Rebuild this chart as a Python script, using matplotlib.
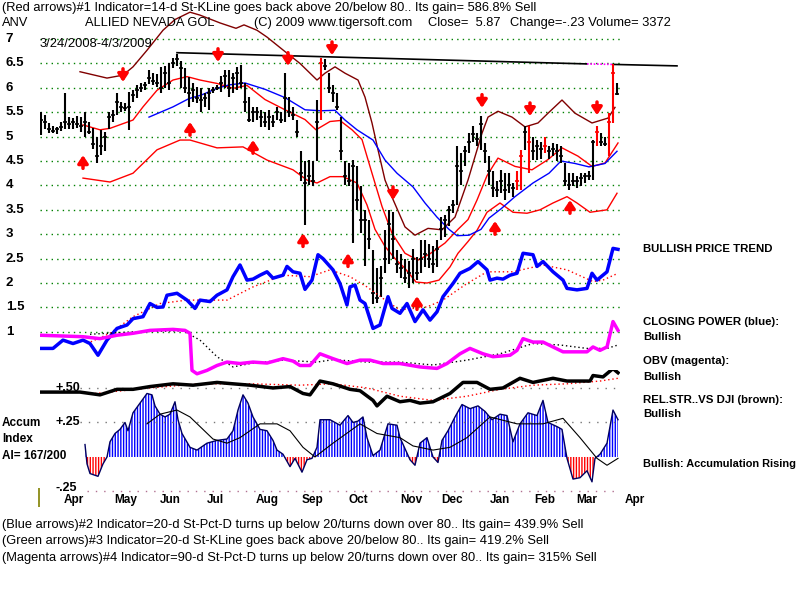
import matplotlib.pyplot as plt

# ---- daily price bars (bar number 0..144) ----
high = [5.5, 5.45, 5.28, 5.22, 5.2, 5.3, 5.89, 5.4, 5.38, 5.42,
        5.4, 5.5, 5.3, 5.17, 5.0, 5.13, 5.1, 5.5, 5.55, 5.89,
        5.7, 5.68, 5.92, 5.95, 6.05, 6.1, 6.12, 6.36, 6.3, 6.28,
        6.43, 6.45, 6.5, 6.62, 6.7, 6.55, 6.4, 6.23, 6.1, 6.02,
        5.99, 5.9, 6.0, 6.02, 6.06, 6.25, 6.36, 6.36, 6.3, 6.43,
        6.47, 6.1, 5.82, 5.6, 5.61, 5.54, 5.5, 5.54, 5.45, 5.61,
        5.5, 6.3, 5.82, 5.6, 5.34, 4.7, 4.5, 4.52, 4.5, 5.75,
        6.61, 6.6, 6.3, 6.05, 5.89, 5.4, 4.5, 4.45, 4.53, 4.4,
        3.98, 3.5, 3.3, 2.68, 2.3, 2.34, 3.09, 3.5, 3.45, 2.68,
        2.6, 2.5, 2.45, 2.7, 2.54, 2.88, 2.88, 2.8, 2.75, 2.88,
        3.36, 3.4, 3.57, 3.7, 4.8, 4.66, 4.8, 5.08, 5.21, 5.08,
        5.42, 4.87, 4.6, 4.3, 4.1, 4.32, 4.25, 4.25, 4.05, 4.3,
        4.73, 5.21, 5.21, 5.0, 4.94, 4.9, 5.0, 4.8, 4.87, 4.85,
        4.8, 4.46, 4.25, 4.25, 4.2, 4.25, 4.25, 4.29, 4.94, 5.21,
        5.08, 5.0, 5.49, 6.48, 6.1]
low = [5.03, 5.15, 5.07, 5.08, 5.06, 5.12, 5.15, 5.15, 5.16, 5.18,
       5.1, 5.0, 5.05, 4.75, 4.45, 4.62, 4.7, 5.15, 5.3, 5.45,
       5.5, 5.52, 5.14, 5.7, 5.8, 5.92, 5.95, 6.08, 6.05, 6.02,
       5.89, 6.0, 5.95, 6.4, 6.45, 6.0, 5.89, 5.6, 5.7, 5.68,
       5.5, 5.6, 5.54, 5.9, 5.95, 5.92, 6.0, 5.82, 5.9, 5.95,
       6.0, 5.5, 5.3, 5.3, 5.34, 5.2, 5.2, 5.14, 5.2, 5.34,
       5.27, 5.3, 5.4, 5.35, 5.0, 4.1, 3.19, 4.0, 3.98, 4.5,
       5.34, 6.36, 5.89, 5.7, 5.54, 4.53, 4.0, 3.98, 2.82, 3.5,
       3.02, 2.34, 2.7, 1.58, 1.6, 1.72, 2.2, 2.4, 2.5, 2.2,
       2.1, 2.0, 1.9, 2.0, 2.06, 2.2, 2.33, 2.3, 2.2, 2.33,
       2.88, 2.95, 3.16, 3.43, 3.6, 4.0, 4.4, 4.66, 4.9, 4.8,
       4.73, 4.46, 4.0, 3.77, 3.77, 3.84, 3.7, 3.84, 3.77, 3.9,
       3.91, 4.73, 4.25, 4.53, 4.53, 4.55, 4.66, 4.55, 4.6, 4.5,
       4.46, 3.98, 3.91, 3.98, 3.95, 3.98, 4.05, 4.12, 4.12, 4.8,
       4.8, 4.8, 4.6, 5.28, 5.86]
close = [5.35, 5.3, 5.15, 5.12, 5.15, 5.2, 5.3, 5.25, 5.3, 5.25,
         5.22, 5.3, 5.1, 4.85, 4.6, 4.8, 5.0, 5.4, 5.45, 5.7,
         5.6, 5.58, 5.6, 5.85, 5.95, 6.0, 6.05, 6.2, 6.15, 6.1,
         6.0, 6.3, 6.1, 6.5, 6.6, 6.4, 6.0, 5.9, 5.95, 5.8,
         5.75, 5.8, 5.9, 5.95, 6.0, 6.1, 6.25, 6.0, 6.2, 6.3,
         6.1, 5.7, 5.35, 5.5, 5.5, 5.4, 5.3, 5.4, 5.3, 5.5,
         5.35, 5.8, 5.5, 5.45, 5.1, 4.25, 4.05, 4.2, 4.1, 5.3,
         6.5, 6.45, 6.0, 5.9, 5.6, 4.7, 4.2, 4.1, 4.4, 3.7,
         3.3, 3.3, 2.9, 1.8, 1.7, 2.1, 2.5, 3.2, 2.9, 2.4,
         2.3, 2.1, 2.2, 2.5, 2.2, 2.5, 2.6, 2.5, 2.4, 2.7,
         3.1, 3.3, 3.5, 3.6, 4.4, 4.3, 4.7, 4.9, 5.05, 4.95,
         5.25, 4.7, 4.3, 3.95, 3.9, 4.1, 3.9, 4.0, 3.95, 4.1,
         4.6, 5.1, 4.9, 4.7, 4.8, 4.75, 4.8, 4.7, 4.75, 4.7,
         4.6, 4.1, 4.0, 4.1, 4.1, 4.15, 4.2, 4.2, 4.9, 5.1,
         4.9, 4.85, 5.3, 6.3, 5.87]
red_bars = [70, 119, 120, 122, 126, 139, 142, 143]

# ---- overlay lines (x = bar number, y = price scale) ----
upper_x = [9.75, 16.5, 20.5, 23, 26.5, 30.5, 33.5, 37.25, 39.75, 44.75, 48.75, 50.75,
           54, 56.5, 61.5, 64.75, 67.25, 69, 71, 73.5, 76, 79.25, 81, 82.75, 84.25,
           86, 87.75, 91, 93.5, 96.75, 100.25, 103.5, 106.75, 110.25, 111.75, 114.25,
           117.75, 121, 124.25, 126.75, 130.25, 133.5, 137.75, 141.75, 143.5]
upper_y = [6.33, 6.2, 6.26, 6.43, 6.77, 7.18, 7.4, 7.55, 7.49, 7.33, 7.22, 7.29,
           7.18, 7.04, 6.71, 6.5, 6.3, 6.16, 6.3, 6.43, 6.3, 6.16, 5.81, 5.28, 4.73,
           4.11, 3.76, 3.15, 2.98, 3.12, 3.09, 3.35, 4.11, 5.07, 5.4, 5.52,
           5.4, 5.2, 5.28, 5.48, 5.75, 5.48, 5.28, 5.38, 5.6]
mid_x = [10.5, 14.75, 17.25, 23, 25.5, 29, 33, 36.5, 39.75, 44, 48, 51.5, 56, 61, 66,
         68.75, 72.25, 74.75, 77.75, 80.25, 82.75, 85.25, 87.75, 91, 94.25, 97.25,
         101, 104.25, 106.75, 109, 111.5, 114.25, 118.5, 122.75, 126.75, 130.25,
         134.25, 137.75, 141, 144.25]
mid_y = [5.24, 5.14, 5.17, 5.34, 5.61, 5.95, 6.16, 6.23, 6.16, 6.09, 5.99, 6.05, 5.76,
         5.55, 5.35, 5.14, 5.31, 5.33, 5.14, 4.94, 4.25, 3.57, 3.02, 2.61, 2.47, 2.6,
         2.82, 3.1, 3.3, 3.7, 4.2, 4.56, 4.39, 4.32, 4.53, 4.77, 4.6, 4.39, 4.46, 4.87]
lower_x = [10.5, 17.25, 23, 29, 34.75, 37.25, 44, 50.5, 56.5, 63, 66.5, 69, 72.25, 75.5,
           79, 81.5, 83.5, 86, 88.5, 91, 93.75, 96.5, 99.5, 102.25, 104.25, 106.75,
           109, 111.5, 114.75, 118, 121.5, 124.75, 128, 131.5, 134, 137.25, 141.5, 144]
lower_y = [4.15, 4.07, 4.25, 4.73, 4.93, 4.93, 4.77, 4.79, 4.52, 4.32, 4.11, 4.05, 4.18,
           4.18, 4.05, 3.6, 3.1, 2.75, 2.5, 2.3, 2.02, 2.0, 2.06, 2.33, 2.61, 2.85,
           3.08, 3.45, 3.64, 3.45, 3.43, 3.5, 3.64, 3.77, 3.64, 3.45, 3.5, 3.84]
ma50_x = [27, 33, 37, 40, 44, 47, 51, 56, 61, 66, 70, 73.5, 76, 79, 83, 86, 89, 93, 96,
          99, 102, 104, 107, 110, 112, 115, 118.5, 123, 127, 130, 133.5, 137, 141, 144]
ma50_y = [5.4, 5.61, 5.78, 5.85, 5.99, 6.06, 6.1, 5.97, 5.8, 5.55, 5.53, 5.54, 5.34,
          5.14, 4.93, 4.52, 4.25, 3.97, 3.64, 3.35, 3.1, 2.97, 2.98, 3.1, 3.33, 3.52,
          3.77, 4.05, 4.25, 4.5, 4.45, 4.38, 4.45, 4.7]

# closing power (blue) and its red dotted average, drawn on the price grid
cp_x = [-0.25, 3, 5.5, 8, 10.5, 12.25, 14.25, 16.5, 19, 21.5, 23, 25.5, 27.25, 29, 30.5,
        31.5, 34, 36.5, 38.5, 39.75, 42.25, 44, 46.5, 48, 49.75, 51.5, 53, 54.75, 56.5,
        58, 60.5, 61.5, 63, 64.75, 66, 67.75, 69.25, 70.5, 73, 74.75, 76.5, 77.25, 78.5,
        79.75, 81, 83, 84.75, 86.75, 87.75, 89.75, 91.5, 93.5, 95.5, 97.25, 99, 100.5,
        103, 104.75, 107.25, 109.25, 111.5, 112.25, 114, 115.5, 117.25, 119, 120.5, 123,
        124, 125.5, 128, 130.5, 131.5, 134, 136.5, 137.75, 139, 141.5, 143, 144.25]
cp_y = [0.66, 0.66, 0.83, 0.76, 0.83, 0.76, 0.52, 0.83, 1.07, 1.14, 1.27, 1.31, 1.58, 1.5,
        1.51, 1.75, 1.79, 1.65, 1.48, 1.65, 1.62, 1.75, 1.86, 2.13, 2.37, 2.06, 2.08, 2.16,
        2.23, 2.1, 2.16, 2.34, 2.23, 2.2, 1.87, 2.06, 2.58, 2.5, 2.27, 1.99, 1.55, 1.92,
        1.96, 1.65, 1.58, 1.07, 1.14, 1.72, 1.48, 1.38, 1.58, 1.21, 1.45, 1.24, 1.41, 1.72,
        1.99, 2.2, 2.3, 2.44, 2.27, 2.06, 2.1, 2.08, 2.16, 2.2, 2.61, 2.58, 2.34, 2.44,
        2.23, 2.06, 1.89, 1.86, 1.89, 2.2, 2.06, 2.23, 2.71, 2.69]
cp_ma_x = [11.5, 17.25, 23, 29.75, 36.5, 46.5, 53, 60.5, 67.25, 72.25, 77.25, 81.5, 87.25,
           89.75, 96.5, 100.5, 106.5, 111.5, 118, 125.5, 131.5, 138, 140.5, 144.25]
cp_ma_y = [0.76, 0.97, 1.31, 1.58, 1.65, 1.65, 1.92, 2.16, 2.13, 2.27, 2.13, 1.92, 1.58,
           1.45, 1.51, 1.65, 1.99, 2.23, 2.23, 2.37, 2.27, 2.03, 2.06, 2.2]

# OBV (magenta) and its black dotted average, drawn on the price grid
obv_x = [-0.25, 10.5, 14.75, 19, 23, 27.25, 33, 36, 37.25, 37.75, 39, 41.5, 44, 46.5,
         49.75, 53, 56.5, 60.5, 63, 64.75, 67.25, 69.75, 73, 76.5, 79.75, 82.25, 85.5,
         89.75, 94.75, 99, 101.5, 104.75, 107.25, 110.5, 113, 117.25, 119, 120.5, 123,
         125.5, 128, 130.5, 134, 136.5, 138, 139.75, 141.5, 143, 144.25]
obv_y = [0.93, 0.9, 0.86, 0.93, 0.97, 1.03, 1.05, 1.03, 0.97, 0.21, 0.14, 0.21, 0.31,
         0.38, 0.35, 0.38, 0.36, 0.45, 0.4, 0.31, 0.31, 0.55, 0.45, 0.35, 0.42, 0.42,
         0.35, 0.35, 0.28, 0.25, 0.35, 0.55, 0.66, 0.55, 0.49, 0.52, 0.62, 0.86, 0.79,
         0.79, 0.69, 0.59, 0.59, 0.59, 0.69, 0.62, 0.69, 1.21, 1.03]
obv_ma_x = [12.25, 23, 35.5, 39.75, 44, 48, 52.25, 60.5, 69, 73, 81.5, 89.75, 98, 106.5,
            114.75, 123, 129.75, 136.5, 141.5, 144.25]
obv_ma_y = [0.95, 1.0, 1.02, 0.83, 0.49, 0.28, 0.35, 0.42, 0.38, 0.43, 0.38, 0.38, 0.32,
            0.42, 0.55, 0.76, 0.73, 0.66, 0.66, 0.73]

# ---- lower panel: relative strength line and accumulation index ----
rs_x = [-0.25, 9.75, 14.75, 19, 23, 27.25, 33, 38, 44, 48, 52.25, 58, 62.25, 65.5, 67.25,
        69.75, 73, 77.25, 79.75, 83, 84, 86.5, 89.75, 92.25, 94.75, 98, 102.25, 105.5,
        109, 112.25, 115.5, 119.75, 123, 128, 131.5, 137.25, 138, 140.5, 143, 144.25]
rs_y = [0.47, 0.47, 0.45, 0.49, 0.49, 0.51, 0.53, 0.52, 0.54, 0.53, 0.52, 0.5, 0.51,
        0.46, 0.45, 0.55, 0.53, 0.49, 0.48, 0.41, 0.37, 0.44, 0.4, 0.41, 0.39, 0.4, 0.46,
        0.54, 0.54, 0.49, 0.5, 0.57, 0.54, 0.57, 0.55, 0.55, 0.59, 0.58, 0.64, 0.61]
rs_ma_x = [13.5, 27.25, 39.75, 52.25, 64.75, 73, 81.5, 89.75, 98, 106.5, 114.75, 123,
           131.5, 139.75, 144.25]
rs_ma_y = [0.46, 0.5, 0.53, 0.53, 0.52, 0.53, 0.5, 0.44, 0.41, 0.44, 0.49, 0.52, 0.53,
           0.55, 0.57]

acc_x = [11, 11.5, 12.25, 14.25, 15.5, 16.5, 17.25, 18.5, 19.75, 21, 21.75, 23, 24.75,
         26.5, 27.75, 28.5, 29.75, 31, 32.25, 33.5, 34.25, 35.25, 37.25, 39, 41.5, 44,
         46.5, 48, 49.25, 50.5, 51.75, 53, 54.75, 56.5, 58, 59, 60.5, 62.25, 63.5, 65.25,
         66.5, 67.75, 69, 69.75, 72.25, 74.75, 76.75, 78, 79.25, 80.5, 81.5, 83, 84.75,
         86.75, 89, 89.75, 91, 92.25, 93.5, 94.75, 96.5, 98, 99.25, 100.25, 101.75, 103.5,
         105.25, 107.25, 109.25, 111, 112.75, 114.75, 116.5, 118, 119.75, 121.75, 124,
         125.5, 126.75, 129, 130.25, 131.5, 133, 134.75, 136.5, 137.75, 138.5, 139.75,
         141.5, 143, 144.25]
acc_y = [0.09, -0.05, -0.12, -0.14, -0.05, 0.0, 0.11, 0.17, 0.2, 0.25, 0.19, 0.32, 0.39,
         0.46, 0.45, 0.37, 0.31, 0.29, 0.31, 0.4, 0.27, 0.17, 0.07, 0.05, 0.1, 0.12, 0.13,
         0.19, 0.34, 0.45, 0.39, 0.29, 0.2, 0.19, 0.12, 0.05, 0.02, -0.07, -0.01, -0.11,
         -0.02, -0.01, 0.07, 0.27, 0.27, 0.23, 0.3, 0.25, 0.26, 0.29, 0.14, 0.01, 0.05,
         0.24, 0.23, 0.14, 0.06, -0.02, -0.06, 0.1, 0.14, 0.0, -0.04, 0.12, 0.19, 0.29,
         0.38, 0.35, 0.37, 0.33, 0.27, 0.31, 0.3, 0.11, 0.24, 0.32, 0.3, 0.41, 0.25, 0.22,
         0.2, -0.01, -0.16, -0.15, -0.1, -0.18, -0.01, 0.02, 0.1, 0.34, 0.27]
acc_ma_x = [26.5, 29.75, 34, 37.25, 43, 46.5, 49.75, 54.75, 59, 62.25, 65.5, 68.5, 73,
            79.75, 84, 89.75, 93, 98, 102.25, 106.5, 112.25, 119, 125.5, 130.5, 134.75,
            139, 141.5, 144.25]
acc_ma_y = [0.24, 0.31, 0.34, 0.29, 0.13, 0.1, 0.14, 0.24, 0.24, 0.19, 0.07, 0.0, 0.1,
            0.24, 0.17, 0.14, 0.08, 0.05, 0.07, 0.14, 0.29, 0.24, 0.24, 0.28, 0.14, -0.01,
            -0.06, -0.01]

# arrows: (bar number, price at arrow tip)
sell_arrows = [(20.5, 6.12), (44.25, 6.53), (61.75, 6.45), (72.75, 6.67), (88, 3.7),
               (110.25, 5.59), (122.25, 5.42), (139, 5.44)]
buy_arrows = [(10.5, 4.62), (37.25, 5.3), (53, 4.93), (65.5, 3.02), (76.75, 2.61),
              (94, 1.73), (113.5, 3.27), (132.25, 3.7)]

month_pos = [8.25, 21.25, 32.25, 43.5, 56.5, 67.75, 79.25, 92.5, 102.75, 114.75, 126,
             136.5, 148.5]
month_lab = ['Apr', 'May', 'Jun', 'Jul', 'Aug', 'Sep', 'Oct', 'Nov', 'Dec', 'Jan', 'Feb',
             'Mar', 'Apr']
price_levels = [1, 1.5, 2, 2.5, 3, 3.5, 4, 4.5, 5, 5.5, 6, 6.5, 7]
price_labels = ['1', '1.5', '2', '2.5', '3', '3.5', '4', '4.5', '5', '5.5', '6', '6.5', '7']

SANS = ['Liberation Sans', 'DejaVu Sans']

fig = plt.figure(figsize=(8, 6), dpi=100)
fig.patch.set_facecolor('white')

# price panel
ax = fig.add_axes([0.05, 0.3, 0.725, 0.7])
ax.set_xlim(-0.25, 144.75)
ax.set_ylim(-0.807, 7.8)
ax.axis('off')

ax.hlines(price_levels, -0.25, 144.75, colors='#008000', linestyles=(0, (1, 3)), lw=1)
for lv, lab in zip(price_levels, price_labels):
    ax.text(-0.059, lv, lab, transform=ax.get_yaxis_transform(), ha='left',
            va='center', fontsize=9.5, family=SANS, fontweight='bold')

# trend line across the tops
ax.plot([34, 136.5], [6.72, 6.49], color='black', lw=1.2, clip_on=False)
ax.plot([136.5, 143], [6.49, 6.48], color='#ff00ff', lw=1.2, ls=(0, (1, 1)), clip_on=False)
ax.plot([143, 159], [6.48, 6.45], color='black', lw=1.2, clip_on=False)

ax.plot(upper_x, upper_y, color='#800000', lw=1)
ax.plot(mid_x, mid_y, color='#ff0000', lw=1)
ax.plot(lower_x, lower_y, color='#ff0000', lw=1)
ax.plot(ma50_x, ma50_y, color='#0000ff', lw=1)

xs = list(range(len(close)))
cols = ['#ff0000' if i in red_bars else 'black' for i in xs]
ax.vlines(xs, low, high, colors=cols, lw=1.5)
ax.hlines(close, [x - 0.5 for x in xs], [x + 0.55 for x in xs], colors=cols, lw=1.2)

ax.plot(cp_ma_x, cp_ma_y, color='#ff0000', lw=1, ls=(0, (1, 2)))
ax.plot(cp_x, cp_y, color='#0000ff', lw=2.5)
ax.plot(obv_ma_x, obv_ma_y, color='black', lw=1, ls=(0, (1, 2)))
ax.plot(obv_x, obv_y, color='#ff00ff', lw=2.5)

arrow_kw = dict(arrowstyle='-|>,head_width=0.3,head_length=0.45', color='#ff0000', lw=2.5,
                shrinkA=0, shrinkB=0, mutation_scale=10)
for x, tip in sell_arrows:
    ax.annotate('', xy=(x, tip), xytext=(x, tip + 0.27), arrowprops=arrow_kw)
for x, tip in buy_arrows:
    ax.annotate('', xy=(x, tip), xytext=(x, tip - 0.27), arrowprops=arrow_kw)

# accumulation panel
ax2 = fig.add_axes([0.05, 0.15, 0.725, 0.23333])
ax2.set_xlim(-0.25, 144.75)
ax2.set_ylim(-0.384, 0.630)
ax2.axis('off')
ax2.patch.set_alpha(0)

ax2.hlines([0.5, 0.25], 9.75, 144.75, colors='#777777', linestyles=(0, (1, 5)), lw=1)
ax2.hlines([-0.25], 11.5, 144.75, colors='#b07090', linestyles=(0, (1, 5)), lw=1)
ax2.text(3.5, 0.5, '+.50', ha='left', va='center', fontsize=9, family=SANS, fontweight='bold')
ax2.text(3.5, 0.25, '+.25', ha='left', va='center', fontsize=9, family=SANS, fontweight='bold')
ax2.text(3.5, -0.228, '-.25', ha='left', va='center', fontsize=9, family=SANS,
         fontweight='bold')
ax2.vlines(-0.5, -0.362, -0.225, colors='#808000', lw=1.2, clip_on=False)

plt.rcParams['hatch.linewidth'] = 1.0
ax2.fill_between(acc_x, 0, acc_y, where=[v >= 0 for v in acc_y], interpolate=True,
                 facecolor='white', edgecolor='#0000ff', hatch='||||||', lw=0)
ax2.fill_between(acc_x, 0, acc_y, where=[v <= 0 for v in acc_y], interpolate=True,
                 facecolor='white', edgecolor='#ff0000', hatch='||||||', lw=0)
ax2.plot(acc_x, acc_y, color='#000060', lw=1)
ax2.plot(acc_ma_x, acc_ma_y, color='black', lw=0.8)

ax2.plot(rs_ma_x, rs_ma_y, color='#ff0000', lw=1, ls=(0, (1, 2)))
ax2.plot(rs_x, rs_y, color='black', lw=2.5)

for x, lab in zip(month_pos, month_lab):
    ax2.text(x, -0.31, lab, ha='center', va='center', fontsize=8.5, family=SANS,
             fontweight='bold', clip_on=False)

# texts around the chart
def ftext(px, py, s, **kw):
    fig.text(px / 800, 1 - py / 600, s, va='center', ha='left', family=SANS, **kw)

ftext(2, 8, '(Red arrows)#1 Indicator=14-d St-KLine goes back above 20/below 80.. '
      'Its gain= 586.8% Sell', fontsize=9.3)
ftext(2, 23, 'ANV', fontsize=9.3)
ftext(85, 23, 'ALLIED NEVADA GOL', fontsize=9.3)
ftext(254, 23, '(C) 2009 www.tigersoft.com', fontsize=9.3)
ftext(428, 23, 'Close=  5.87', fontsize=9.3)
ftext(510, 23, 'Change=-.23 Volume= 3372', fontsize=9.3)
ftext(40, 44, '3/24/2008-4/3/2009', fontsize=9.3)

bold = dict(fontsize=8.2, fontweight='bold')
ftext(643, 249, 'BULLISH PRICE TREND', **bold)
ftext(643, 322, 'CLOSING POWER (blue):', **bold)
ftext(643, 337, 'Bullish', **bold)
ftext(643, 361, 'OBV (magenta):', **bold)
ftext(643, 377, 'Bullish', **bold)
ftext(643, 400, 'REL.STR..VS DJI (brown):', **bold)
ftext(643, 414, 'Bullish', **bold)
ftext(643, 464, 'Bullish: Accumulation Rising', fontsize=7.9, fontweight='bold')

ftext(2, 423, 'Accum', fontsize=8.5, fontweight='bold')
ftext(2, 439, 'Index', fontsize=8.5, fontweight='bold')
ftext(2, 456, 'AI= 167/200', fontsize=8.5, fontweight='bold')

ftext(2, 525, '(Blue arrows)#2 Indicator=20-d St-Pct-D turns up below 20/turns down '
      'over 80.. Its gain= 439.9% Sell', fontsize=9.3)
ftext(2, 541, '(Green arrows)#3 Indicator=20-d St-KLine goes back above 20/below 80.. '
      'Its gain= 419.2% Sell', fontsize=9.3)
ftext(2, 558, '(Magenta arrows)#4 Indicator=90-d St-Pct-D turns up below 20/turns down '
      'over 80.. Its gain= 315% Sell', fontsize=9.3)

fig.savefig('out.png', dpi=100, facecolor='white')
